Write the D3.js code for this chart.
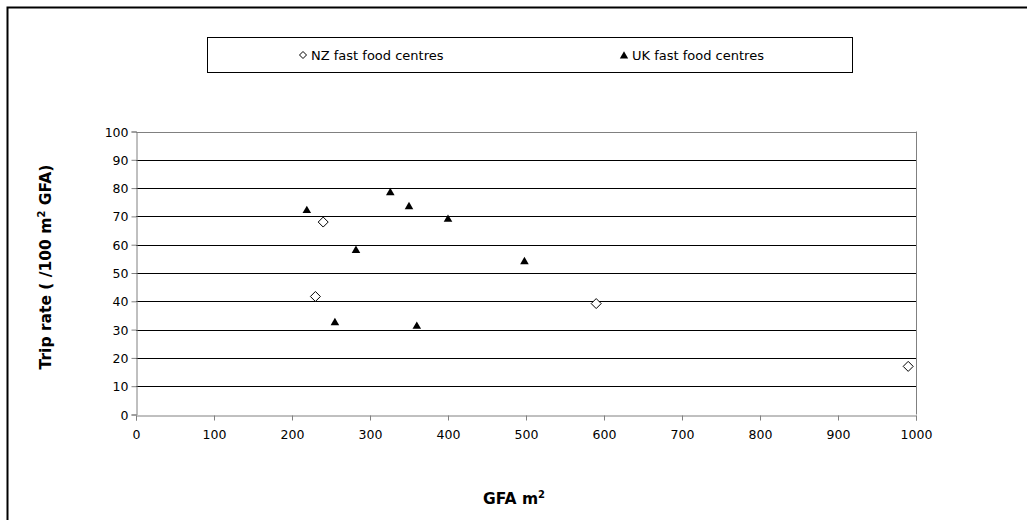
<!DOCTYPE html>
<html>
<head>
  <meta charset="UTF-8" />
  <script src="https://d3js.org/d3.v7.min.js"></script>
  <style>
    html, body { margin: 0; padding: 0; background: #fff; }
    svg { display: block; font-family: "DejaVu Sans", Verdana, sans-serif; }
    .tick text { font-size: 12.5px; fill: #000; }
    .ttl { font-size: 15.5px; font-weight: bold; }
    .leg { font-size: 13px; }
  </style>
</head>
<body>
  <svg width="1027" height="520"></svg>
  <script>
    // series (GFA m2, trip rate)
    const nzGfa = [240, 230, 590, 990];
    const nzRate = [68, 41.7, 39.2, 17];
    const ukGfa = [219, 326, 350, 400, 282, 255, 360, 498];
    const ukRate = [72.4, 78.7, 73.8, 69.3, 58.3, 32.8, 31.5, 54.3];
    const xTicks = [0, 100, 200, 300, 400, 500, 600, 700, 800, 900, 1000];
    const yTicks = [0, 10, 20, 30, 40, 50, 60, 70, 80, 90, 100];
    const seriesNames = ["NZ fast food centres", "UK fast food centres"];

    const svg = d3.select("svg");

    // outer chart border (only left/top visible)
    svg.append("rect")
      .attr("x", 7.5).attr("y", 7.5).attr("width", 1100).attr("height", 600)
      .attr("fill", "none").attr("stroke", "#000").attr("stroke-width", 2);

    const x = d3.scaleLinear().domain([0, 1000]).range([136, 916]);
    const y = d3.scaleLinear().domain([0, 100]).range([414.5, 131.5]);

    // gridlines
    svg.append("g").selectAll("line")
      .data(yTicks.filter(d => d > 0))
      .enter().append("line")
      .attr("x1", x(0)).attr("x2", x(1000))
      .attr("y1", d => Math.round(y(d)) + 0.5).attr("y2", d => Math.round(y(d)) + 0.5)
      .attr("stroke", d => d === 100 ? "#808080" : "#000");

    // right border of plot area
    svg.append("line")
      .attr("x1", x(1000) + 0.5).attr("x2", x(1000) + 0.5)
      .attr("y1", y(100)).attr("y2", y(0))
      .attr("stroke", "#808080");

    const xAxis = svg.append("g")
      .attr("transform", `translate(0,${Math.round(y(0)) + 0.5})`)
      .call(d3.axisBottom(x).tickValues(xTicks).tickSize(5).tickPadding(10).tickFormat(d3.format("d")));
    const yAxis = svg.append("g")
      .attr("transform", `translate(${x(0) + 0.5},0)`)
      .call(d3.axisLeft(y).tickValues(yTicks).tickSize(5).tickPadding(3).tickFormat(d3.format("d")));
    [xAxis, yAxis].forEach(a => {
      a.select(".domain").attr("stroke", "#808080");
      a.selectAll(".tick line").attr("stroke", "#808080");
      a.attr("font-family", null).attr("font-size", null);
    });
    yAxis.selectAll(".tick text").attr("dy", "0.36em");

    const tri = d3.symbol().type(d3.symbolTriangle).size(32);
    const dia = (cx, cy, r) => `M${cx},${cy - r}L${cx + r},${cy}L${cx},${cy + r}L${cx - r},${cy}Z`;

    // UK triangles
    svg.append("g").selectAll("path")
      .data(ukGfa.map((g, i) => [g, ukRate[i]]))
      .enter().append("path")
      .attr("d", tri)
      .attr("transform", d => `translate(${x(d[0])},${y(d[1]) + 1})`)
      .attr("fill", "#000");

    // NZ diamonds
    svg.append("g").selectAll("path")
      .data(nzGfa.map((g, i) => [g, nzRate[i]]))
      .enter().append("path")
      .attr("d", d => dia(x(d[0]), y(d[1]), 5))
      .attr("fill", "#fff").attr("stroke", "#000").attr("stroke-width", 1);

    // axis titles
    svg.append("text").attr("class", "ttl")
      .attr("x", 514).attr("y", 504).attr("text-anchor", "middle")
      .html('GFA m<tspan dy="-6" font-size="10">2</tspan>');
    svg.append("text").attr("class", "ttl")
      .attr("transform", "translate(51,267) rotate(-90)").attr("text-anchor", "middle")
      .html('Trip rate ( /100 m<tspan dy="-6" font-size="10">2</tspan><tspan dy="6"> GFA)</tspan>');

    // legend
    const leg = svg.append("g");
    leg.append("rect")
      .attr("x", 207.5).attr("y", 37.5).attr("width", 645).attr("height", 35)
      .attr("fill", "#fff").attr("stroke", "#000");
    leg.append("path").attr("d", dia(303, 55, 3.5))
      .attr("fill", "#fff").attr("stroke", "#000");
    leg.append("text").attr("class", "leg").attr("x", 311).attr("y", 59.5).text(seriesNames[0]);
    leg.append("path").attr("d", d3.symbol().type(d3.symbolTriangle).size(30))
      .attr("transform", "translate(624,56)").attr("fill", "#000");
    leg.append("text").attr("class", "leg").attr("x", 632).attr("y", 59.5).text(seriesNames[1]);
  </script>
</body>
</html>
